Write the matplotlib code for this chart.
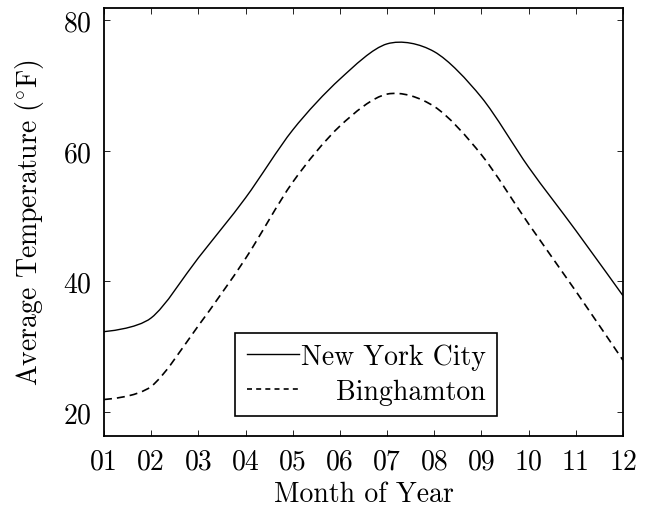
import matplotlib

matplotlib.use("Agg")
import matplotlib.pyplot as plt
import numpy as np
from matplotlib.lines import Line2D
from matplotlib.patches import PathPatch
from matplotlib.path import Path

months = np.arange(1, 13)
month_labels = ["01", "02", "03", "04", "05", "06", "07", "08", "09", "10", "11", "12"]
nyc = [32.3, 34.4, 43.6, 52.8, 63.2, 71.0, 76.4, 75.2, 68.2, 57.5, 47.8, 37.8]
binghamton = [21.9, 23.9, 33.2, 43.5, 55.2, 63.8, 68.7, 66.8, 59.4, 48.8, 38.5, 27.9]
y_ticks = [20, 40, 60, 80]

plt.rcParams["font.family"] = ["cmr10"]
plt.rcParams["mathtext.fontset"] = "cm"
plt.rcParams["axes.formatter.use_mathtext"] = True


def smooth_path(x, y, tension=0.55):
    """Bezier path through the points, like TikZ 'smooth'."""
    pts = np.column_stack([x, y]).astype(float)
    k = 0.2775 * tension
    verts = [pts[0]]
    codes = [Path.MOVETO]
    n = len(pts)
    for i in range(n - 1):
        prev_pt = pts[i - 1] if i > 0 else pts[i]
        next_pt = pts[i + 2] if i + 2 < n else pts[i + 1]
        c1 = pts[i] + k * (pts[i + 1] - prev_pt) if i > 0 else pts[i]
        c2 = pts[i + 1] - k * (next_pt - pts[i]) if i + 2 < n else pts[i + 1]
        verts += [c1, c2, pts[i + 1]]
        codes += [Path.CURVE4] * 3
    return Path(verts, codes)


fig = plt.figure(figsize=(6.47, 5.10), dpi=100)
ax = fig.add_axes([0.1607, 0.1431, 0.8022, 0.8393])

dash = (4.8, 3.0)
ax.add_patch(PathPatch(smooth_path(months, nyc), fill=False, lw=1.0, ec="black"))
ax.add_patch(PathPatch(smooth_path(months, binghamton), fill=False, lw=1.2, ec="black",
                       linestyle=(0, dash)))

ax.set_xlim(1, 12)
ax.set_ylim(16.3, 81.9)
ax.set_xticks(months)
ax.set_xticklabels(month_labels)
ax.set_yticks(y_ticks)
ax.tick_params(direction="in", top=True, right=True, length=4, width=0.6,
               labelsize=20, pad=9)
for spine in ax.spines.values():
    spine.set_linewidth(1.3)

ax.set_xlabel("Month of Year", fontsize=20, labelpad=4)
ax.set_ylabel(r"Average Temperature $(^{\circ}\mathrm{F})$", fontsize=20, labelpad=12)

handles = [
    Line2D([], [], color="black", lw=1.0),
    Line2D([], [], color="black", lw=1.2, linestyle=(0, (3.0, 2.5))),
]
leg = ax.legend(handles, ["New York City", "Binghamton"], loc="lower center",
                bbox_to_anchor=(0.505, 0.047), borderaxespad=0, fontsize=20,
                frameon=True, fancybox=False, edgecolor="black", framealpha=1,
                handlelength=1.9, handletextpad=0.05, labelspacing=0.3,
                borderpad=0.4)
leg.get_frame().set_linewidth(1.2)

# right-align the legend texts the way pgfplots shows them
fig.canvas.draw()
texts = leg.get_texts()
widths = [t.get_window_extent().width for t in texts]
for t, w in zip(texts, widths):
    t.set_x(max(widths) - w)

fig.savefig("out.png", dpi=100)
